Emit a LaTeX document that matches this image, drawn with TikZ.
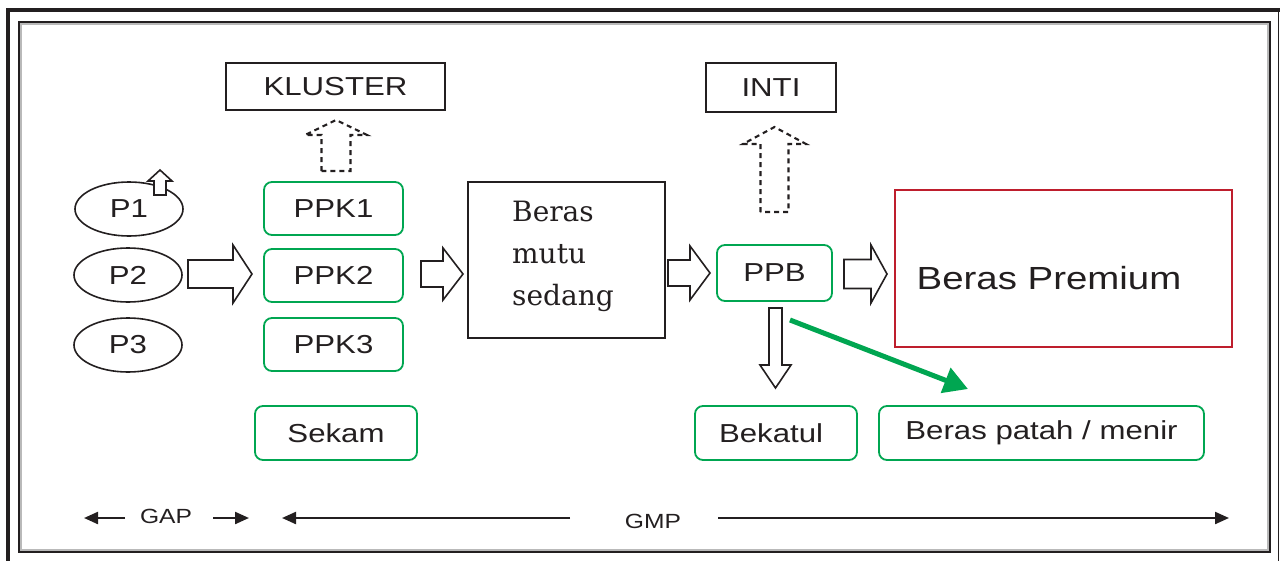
\documentclass[tikz,border=0pt]{standalone}
\usepackage{fontspec}
\newfontfamily\lab[FakeStretch=1.2]{Liberation Sans}
\newfontfamily\body{DejaVu Serif}
\usetikzlibrary{arrows.meta,shapes.geometric}
\definecolor{ink}{HTML}{231F20}
\definecolor{leaf}{HTML}{00A651}
\definecolor{brick}{HTML}{BE1E2D}

% horizontal block arrow: tail x, head-base x, tip x, centre y, shaft half, head half
\newcommand\hblk[6]{%
  \draw[blk] (#1,#4-#5) -- (#2,#4-#5) -- (#2,#4-#6) -- (#3,#4) -- (#2,#4+#6)
    -- (#2,#4+#5) -- (#1,#4+#5) -- cycle;}
% vertical block arrow: centre x, tail y, head-base y, tip y, shaft half, head half, style
\newcommand\vblk[7]{%
  \draw[#7] (#1-#5,#2) -- (#1-#5,#3) -- (#1-#6,#3) -- (#1,#4) -- (#1+#6,#3)
    -- (#1+#5,#3) -- (#1+#5,#2) -- cycle;}

\tikzset{
  lbl/.style={font=\lab\fontsize{26}{30}\selectfont, text=ink},
  plain/.style={draw=ink, line width=1.8pt, lbl, inner sep=0pt},
  gbox/.style={draw=leaf, line width=1.8pt, rounded corners=8pt, lbl, inner sep=0pt},
  oval/.style={ellipse, draw=ink, line width=1.6pt, lbl, minimum width=108pt,
    minimum height=54pt, inner sep=0pt},
  blk/.style={draw=ink, line width=1.6pt, fill=white, line join=miter},
  dblk/.style={draw=ink, line width=2.1pt, dash pattern=on 5pt off 4pt},
  span/.style={draw=ink, line width=2.2pt, -{Triangle[length=14pt,width=12pt]}},
  scopetxt/.style={text=ink, inner sep=0pt, font=\lab\fontsize{20.5}{24}\selectfont},
}

\begin{document}
\begin{tikzpicture}[x=1pt,y=-1pt]
\useasboundingbox (0,0) rectangle (1280,560);

% frames
\draw[ink, line width=4pt] (8,562) -- (8,10) -- (1282,10);
\draw[ink, line width=1.5pt] (1278.7,10) -- (1278.7,562);
\draw[gray!55, line width=1.5pt] (21,24) rectangle (1268,550);
\draw[ink, line width=2pt] (19,22) rectangle (1270,552);

% top boxes
\node[plain, minimum width=219pt, minimum height=47pt] (kluster) at (335.5,86.5) {KLUSTER};
\node[plain, minimum width=130pt, minimum height=49pt] (inti) at (771,87.5) {INTI};

% farmers
\node[oval] (p1) at (129,209) {P1};
\node[oval] (p2) at (128,275) {P2};
\node[oval] (p3) at (128,345) {P3};
\vblk{160}{195}{181}{170}{6}{12}{blk}

% collectors
\node[gbox, minimum width=139pt, minimum height=53pt] (ppk1) at (333.5,208.5) {PPK1};
\node[gbox, minimum width=139pt, minimum height=53pt] (ppk2) at (333.5,275.5) {PPK2};
\node[gbox, minimum width=139pt, minimum height=53pt] (ppk3) at (333.5,344.5) {PPK3};
\node[gbox, minimum width=162pt, minimum height=54pt] (sekam) at (336,433) {Sekam};

% medium-quality rice
\node[draw=ink, line width=1.8pt, minimum width=197pt, minimum height=156pt] (mutu) at (566.5,260) {};
\node[anchor=north west, align=left, inner sep=0pt, text=ink,
  font=\body\fontsize{28}{42}\selectfont] (mututxt) at (512,201) {Beras\\mutu\\sedang};

% mill
\node[gbox, minimum width=115pt, minimum height=56pt] (ppb) at (774.5,273) {PPB};

% premium rice
\node[draw=brick, line width=2.6pt, minimum width=337pt, minimum height=157pt] (prem) at (1063.5,268.5) {};
\node[lbl, font=\lab\fontsize{32}{36}\selectfont, inner sep=0pt] (premtxt) at (1049,278) {Beras Premium};

% by-products
\node[gbox, minimum width=162pt, minimum height=54pt, text width=150pt, align=left, inner xsep=0pt] (bekatul) at (776,433) {\hspace*{18pt}Bekatul};
\node[gbox, minimum width=325pt, minimum height=54pt] (patah) at (1041.5,433) {Beras patah / menir};

% block arrows along the chain
\hblk{188}{233}{252}{274}{14}{29}
\hblk{421}{443}{463}{274}{13}{26}
\hblk{668}{690}{710}{273}{13}{27}
\hblk{844}{871}{887}{274}{14.5}{29}
\vblk{775.5}{308}{365}{388}{6.5}{15.5}{blk}
\vblk{336}{171}{135}{120}{14.5}{31}{dblk}
\vblk{774.5}{212}{144}{127}{14}{31.5}{dblk}

% broken rice flow
\coordinate (gs) at (790,320);
\coordinate (ge) at (968,389);
\draw[leaf, line width=5pt, -{Triangle[length=24pt,width=26pt]}] (gs) -- (ge);

% scope bars
\node[scopetxt] (gap) at (166,516) {GAP};
\node[scopetxt] (gmp) at (653,521) {GMP};
\coordinate (a1) at (125,518); \coordinate (a2) at (84,518);
\coordinate (b1) at (213,518); \coordinate (b2) at (249,518);
\coordinate (c1) at (570,518); \coordinate (c2) at (282,518);
\coordinate (d1) at (718,518); \coordinate (d2) at (1229,518);
\draw[span] (a1) -- (a2);
\draw[span] (b1) -- (b2);
\draw[span] (c1) -- (c2);
\draw[span] (d1) -- (d2);
\end{tikzpicture}
\end{document}
